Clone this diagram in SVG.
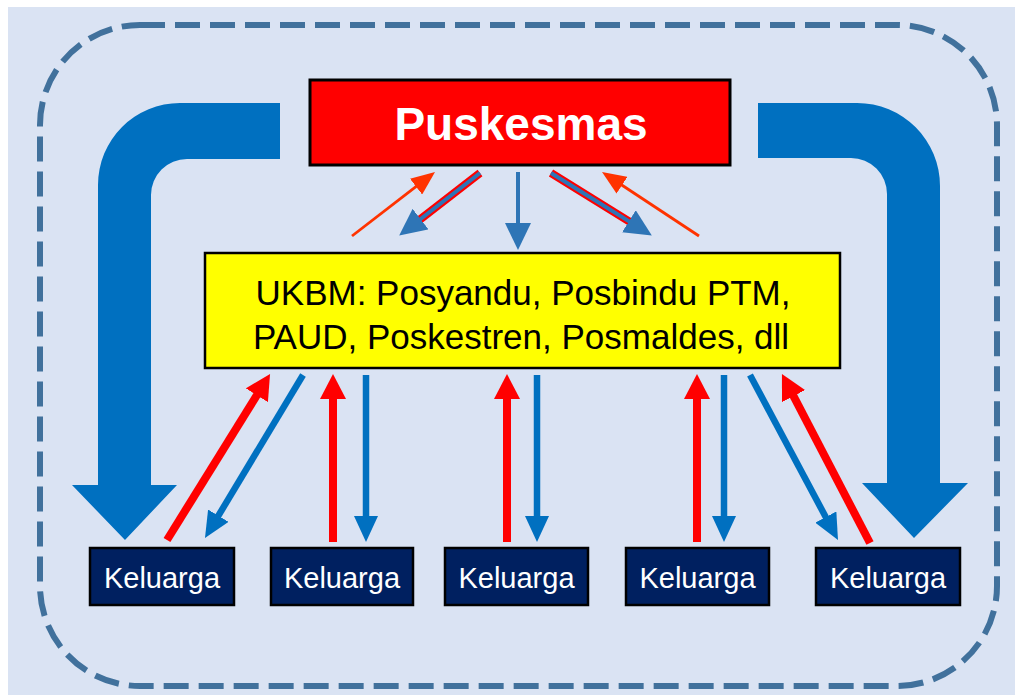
<svg xmlns="http://www.w3.org/2000/svg" width="1015" height="695" viewBox="0 0 1015 695">
<style>
.kel rect{fill:#002060;stroke:#000;stroke-width:2.5}
.kel text{fill:#fff;font-family:"Liberation Sans",Arial,sans-serif;font-size:29px;text-anchor:middle}
.r{stroke:#FF0000;stroke-width:8;fill:none}
.b{stroke:#0070C0;stroke-width:6.5;fill:none}
.o{stroke:#FF3300;stroke-width:2.8;fill:none}
.glow{stroke:#FF0000;stroke-width:8;fill:none;filter:url(#blur)}
.bt{stroke:#2E75B6;stroke-width:4;fill:none}
.big{fill:#0070C0}
</style>
<defs>
<filter id="blur" x="-20%" y="-20%" width="140%" height="140%"><feGaussianBlur stdDeviation="0.7"/></filter>
<marker id="hr" markerUnits="userSpaceOnUse" viewBox="0 0 25 26" markerWidth="25" markerHeight="26" refX="5" refY="13" orient="auto"><path d="M0,0 L25,13 L0,26 z" fill="#FF0000"/></marker>
<marker id="hb" markerUnits="userSpaceOnUse" viewBox="0 0 26 24" markerWidth="26" markerHeight="24" refX="5" refY="12" orient="auto"><path d="M0,0 L26,12 L0,24 z" fill="#0070C0"/></marker>
<marker id="ho" markerUnits="userSpaceOnUse" viewBox="0 0 24 20" markerWidth="24" markerHeight="20" refX="4" refY="10" orient="auto"><path d="M0,0 L24,10 L0,20 z" fill="#FF3300"/></marker>
<marker id="hb2" markerUnits="userSpaceOnUse" viewBox="0 0 27 26" markerWidth="27" markerHeight="26" refX="4" refY="13" orient="auto"><path d="M0,0 L27,13 L0,26 z" fill="#2E75B6"/></marker>
</defs>
<rect x="8" y="7" width="1007" height="688" fill="#DAE3F3"/>
<rect x="40" y="25" width="957" height="661" rx="100" ry="100" fill="none" stroke="#41719C" stroke-width="6" stroke-dasharray="25 10"/>
<g id="big-arrows">
<path class="big" d="M280,103 L180,103 A82,82 0 0 0 98,185 L98,485 L72,485 L125,540 L177,485 L151,485 L151,195 A36,36 0 0 1 187,159 L280,159 Z"/>
<path class="big" d="M758,103 L857,103 A83,83 0 0 1 940,186 L940,483 L968,483 L914,538 L862,483 L887,483 L887,194 A36,36 0 0 0 851,158 L758,158 Z"/>
</g>
<g id="connectors">
<line class="o" x1="352" y1="236" x2="419.2" y2="184.2" marker-end="url(#ho)"/>
<line class="o" x1="699" y1="236" x2="618.7" y2="183" marker-end="url(#ho)"/>
<line class="glow" x1="480" y1="173" x2="417.4" y2="221.5"/>
<line class="bt" x1="480" y1="173" x2="417.4" y2="221.5" marker-end="url(#hb2)"/>
<line class="glow" x1="518" y1="172" x2="518" y2="224"/>
<line class="bt" x1="518" y1="172" x2="518" y2="227" marker-end="url(#hb2)"/>
<line class="glow" x1="551" y1="173" x2="632.3" y2="223.4"/>
<line class="bt" x1="551" y1="173" x2="632.3" y2="223.4" marker-end="url(#hb2)"/>
<line class="r" x1="167" y1="540" x2="259.5" y2="391" marker-end="url(#hr)"/>
<line class="b" x1="303" y1="375" x2="215.8" y2="520" marker-end="url(#hb)"/>
<line class="r" x1="333" y1="542" x2="333" y2="394" marker-end="url(#hr)"/>
<line class="b" x1="366" y1="375" x2="366" y2="521" marker-end="url(#hb)"/>
<line class="r" x1="507" y1="542" x2="507" y2="394" marker-end="url(#hr)"/>
<line class="b" x1="537" y1="375" x2="537" y2="521" marker-end="url(#hb)"/>
<line class="r" x1="697" y1="542" x2="697" y2="394" marker-end="url(#hr)"/>
<line class="b" x1="724" y1="375" x2="724" y2="521" marker-end="url(#hb)"/>
<line class="b" x1="750" y1="375" x2="828.1" y2="521.5" marker-end="url(#hb)"/>
<line class="r" x1="870" y1="543" x2="791.2" y2="391.7" marker-end="url(#hr)"/>
</g>
<g id="puskesmas">
<rect x="310" y="80" width="420" height="85" fill="#FF0000" stroke="#000" stroke-width="3"/>
<text x="521" y="140" fill="#fff" font-family="'Liberation Sans',Arial,sans-serif" font-weight="bold" font-size="46" text-anchor="middle">Puskesmas</text>
</g>
<g id="ukbm">
<rect x="205" y="253" width="635" height="115" fill="#FFFF00" stroke="#000" stroke-width="2.5"/>
<text font-family="'Liberation Sans',Arial,sans-serif" font-size="35" fill="#000" text-anchor="middle"><tspan x="523" y="305">UKBM: Posyandu, Posbindu PTM,</tspan><tspan x="521" y="349">PAUD, Poskestren, Posmaldes, dll</tspan></text>
</g>
<g id="keluarga1" class="kel"><rect x="90" y="548" width="144" height="57"/><text x="162" y="588">Keluarga</text></g>
<g id="keluarga2" class="kel"><rect x="271" y="548" width="142" height="57"/><text x="342" y="588">Keluarga</text></g>
<g id="keluarga3" class="kel"><rect x="445" y="548" width="143" height="57"/><text x="516.5" y="588">Keluarga</text></g>
<g id="keluarga4" class="kel"><rect x="626" y="548" width="143" height="57"/><text x="697.5" y="588">Keluarga</text></g>
<g id="keluarga5" class="kel"><rect x="816" y="548" width="144" height="57"/><text x="888" y="588">Keluarga</text></g>
</svg>
